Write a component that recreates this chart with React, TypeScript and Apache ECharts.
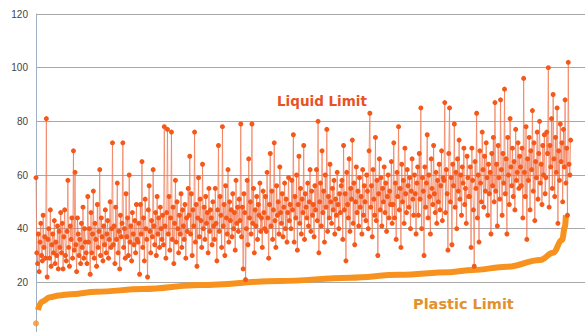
import React, { useEffect, useRef } from "react";
import * as echarts from "echarts";

// Liquid Limit values, sample by sample (left to right)
const liquidLimit: number[] = [
  59, 31, 27, 38, 24, 35, 42, 30, 28, 45, 33, 37, 29, 81, 22, 36, 40, 29, 47, 26, 34, 38, 31, 43, 27, 35, 30, 41, 25, 39, 33, 46,
  31, 42, 25, 37, 47, 30, 28, 39, 58, 33, 26, 41, 36, 44, 29, 69, 32, 61, 34, 24, 44, 38, 30, 36, 27, 42, 33, 48, 29, 40, 35, 31,
  27, 52, 35, 40, 23, 46, 31, 38, 54, 29, 42, 36, 26, 49, 33, 39, 62, 30, 44, 37, 28, 41, 34, 47, 31, 38, 43, 29, 36, 50, 33, 40,
  72, 34, 41, 27, 48, 36, 57, 31, 39, 25, 45, 37, 42, 72, 33, 40, 29, 53, 37, 44, 30, 60, 35, 41, 28, 46, 38, 34, 43, 31, 49, 36,
  35, 42, 23, 49, 38, 65, 33, 44, 28, 51, 40, 36, 22, 47, 56, 39, 31, 43, 37, 62, 41, 34, 46, 30, 52, 38, 44, 33, 48, 40, 36, 45,
  34, 78, 41, 29, 46, 77, 38, 52, 32, 44, 76, 36, 48, 27, 42, 58, 35, 50, 40, 31, 45, 38, 53, 33, 47, 41, 36, 49, 29, 44, 39, 55,
  45, 67, 38, 53, 30, 47, 41, 76, 35, 49, 26, 44, 59, 37, 51, 43, 33, 64, 40, 48, 36, 52, 42, 46, 31, 55, 39, 47, 44, 34, 50, 41,
  36, 55, 42, 28, 47, 71, 39, 52, 45, 33, 78, 41, 49, 30, 56, 44, 38, 62, 35, 50, 43, 47, 37, 53, 40, 46, 32, 58, 42, 48, 39, 51,
  43, 79, 37, 48, 25, 53, 46, 21, 40, 58, 34, 66, 44, 50, 38, 79, 42, 55, 31, 47, 41, 52, 36, 49, 45, 57, 39, 44, 33, 54, 46, 40,
  52, 39, 61, 44, 29, 49, 68, 41, 54, 36, 47, 72, 43, 33, 56, 45, 50, 38, 63, 46, 42, 53, 37, 48, 57, 40, 51, 35, 46, 59, 43, 49,
  40, 58, 47, 75, 35, 52, 44, 60, 32, 49, 67, 42, 55, 38, 51, 46, 71, 36, 53, 48, 44, 57, 41, 50, 62, 39, 54, 45, 49, 37, 56, 47,
  62, 43, 80, 31, 50, 57, 41, 69, 46, 54, 35, 60, 48, 77, 39, 52, 44, 64, 50, 42, 55, 47, 58, 38, 51, 45, 61, 49, 40, 53, 46, 56,
  58, 36, 71, 47, 53, 28, 61, 49, 44, 66, 39, 55, 51, 73, 42, 57, 34, 50, 63, 46, 54, 41, 59, 48, 52, 38, 62, 45, 56, 50, 43, 60,
  54, 40, 69, 83, 48, 56, 37, 62, 51, 45, 74, 43, 58, 30, 53, 66, 47, 59, 41, 55, 50, 63, 46, 57, 39, 52, 60, 44, 54, 49, 65, 42,
  49, 72, 44, 57, 36, 61, 52, 78, 47, 55, 33, 64, 50, 58, 42, 70, 53, 46, 62, 56, 48, 59, 40, 54, 66, 51, 45, 60, 53, 38, 57, 63,
  45, 68, 51, 85, 40, 59, 54, 30, 63, 48, 57, 75, 44, 60, 52, 38, 66, 55, 49, 71, 53, 46, 61, 42, 58, 50, 64, 47, 56, 69, 43, 59,
  58, 87, 46, 62, 53, 32, 68, 85, 50, 59, 34, 64, 56, 79, 48, 61, 40, 66, 54, 73, 51, 60, 45, 63, 57, 70, 49, 55, 42, 67, 59, 52,
  52, 63, 33, 70, 58, 47, 26, 65, 55, 83, 44, 60, 35, 69, 57, 50, 76, 62, 48, 67, 54, 72, 59, 45, 64, 53, 61, 38, 68, 56, 74, 50,
  87, 54, 64, 41, 71, 59, 51, 88, 62, 45, 68, 57, 92, 53, 66, 38, 74, 60, 49, 81, 63, 56, 70, 52, 65, 47, 77, 58, 61, 72, 55, 67,
  63, 56, 70, 44, 96, 61, 52, 78, 36, 66, 58, 74, 47, 69, 62, 84, 54, 72, 43, 65, 59, 76, 51, 68, 80, 57, 64, 49, 71, 60, 75, 53,
  59, 76, 68, 100, 48, 71, 63, 81, 55, 90, 66, 52, 74, 61, 85, 42, 69, 58, 79, 65, 72, 50, 77, 63, 88, 57, 70, 45, 102, 64, 60, 73,
];

// Plastic Limit (sorted) read at sample positions along the curve
const plasticIdx: number[] = [0, 2.4, 7.2, 17.6, 28.8, 43.3, 76.1, 134.6, 205.9, 306, 394.2, 456.7, 519.1, 548, 591.2, 632.9, 648.9, 660.2, 663.8, 665];
const plasticVal: number[] = [4.7, 9.7, 12.8, 14.4, 15.1, 15.6, 16.5, 17.5, 19.0, 20.5, 21.7, 22.8, 23.8, 24.6, 25.8, 28.3, 31, 35.8, 40.7, 45];

const yTicks = { min: 0, max: 120, interval: 20 };
const labels = { liquid: "Liquid Limit", plastic: "Plastic Limit" };

export default function App() {
  const ref = useRef<HTMLDivElement>(null);

  useEffect(() => {
    if (!ref.current) return;
    const chart = echarts.init(ref.current, undefined, { renderer: "svg" });
    const plasticPts = plasticIdx.map((x, i) => [x, plasticVal[i]]);
    chart.setOption({
      animation: false,
      backgroundColor: "#ffffff",
      grid: { left: 36, right: 0, top: 14, bottom: 16, containLabel: false },
      xAxis: {
        type: "value",
        min: 0,
        max: 689,
        axisLine: { show: false },
        axisTick: { show: false },
        axisLabel: { show: false },
        splitLine: { show: false },
      },
      yAxis: {
        type: "value",
        min: yTicks.min,
        max: yTicks.max,
        interval: yTicks.interval,
        axisLine: { show: true, lineStyle: { color: "#9FAFC4", width: 1 } },
        axisTick: { show: false },
        axisLabel: {
          color: "#444444",
          fontSize: 10,
          fontFamily: "Liberation Sans, Arial, sans-serif",
          margin: 8,
        },
        splitLine: { show: true, lineStyle: { color: "#A8A8A8", width: 1 } },
      },
      series: [
        {
          name: labels.plastic,
          type: "line",
          data: plasticPts.slice(1),
          smooth: 0.4,
          smoothMonotone: "x",
          showSymbol: false,
          symbol: "none",
          lineStyle: { color: "#F7921E", width: 6 },
          z: 2,
        },
        {
          name: labels.plastic + " first",
          type: "scatter",
          data: plasticPts.slice(0, 1),
          symbolSize: 6,
          itemStyle: { color: "#F7921E" },
          z: 2,
        },
        {
          name: labels.liquid,
          type: "line",
          data: liquidLimit.map((v, i) => [i, v]),
          symbol: "circle",
          symbolSize: 5,
          showSymbol: true,
          showAllSymbol: true,
          lineStyle: { color: "#EF7A55", width: 0.9, opacity: 0.8 },
          itemStyle: { color: "#F4581A" },
          z: 3,
        },
      ],
      graphic: [
        {
          type: "text",
          left: 323 - 46,
          top: 94,
          style: {
            text: labels.liquid,
            fill: "#E8521F",
            font: "bold 13.5px 'DejaVu Sans', Verdana, sans-serif",
          },
          z: 10,
        },
        {
          type: "text",
          left: 413,
          top: 296,
          style: {
            text: labels.plastic,
            fill: "#E3912A",
            font: "bold 14.5px 'DejaVu Sans', Verdana, sans-serif",
          },
          z: 10,
        },
      ],
    });
    return () => chart.dispose();
  }, []);

  return (
    <div style={{ position: "absolute", left: 0, top: 0, width: 585, height: 332, overflow: "hidden", background: "#fff" }}>
      <div ref={ref} style={{ width: 585, height: 352 }} />
    </div>
  );
}
